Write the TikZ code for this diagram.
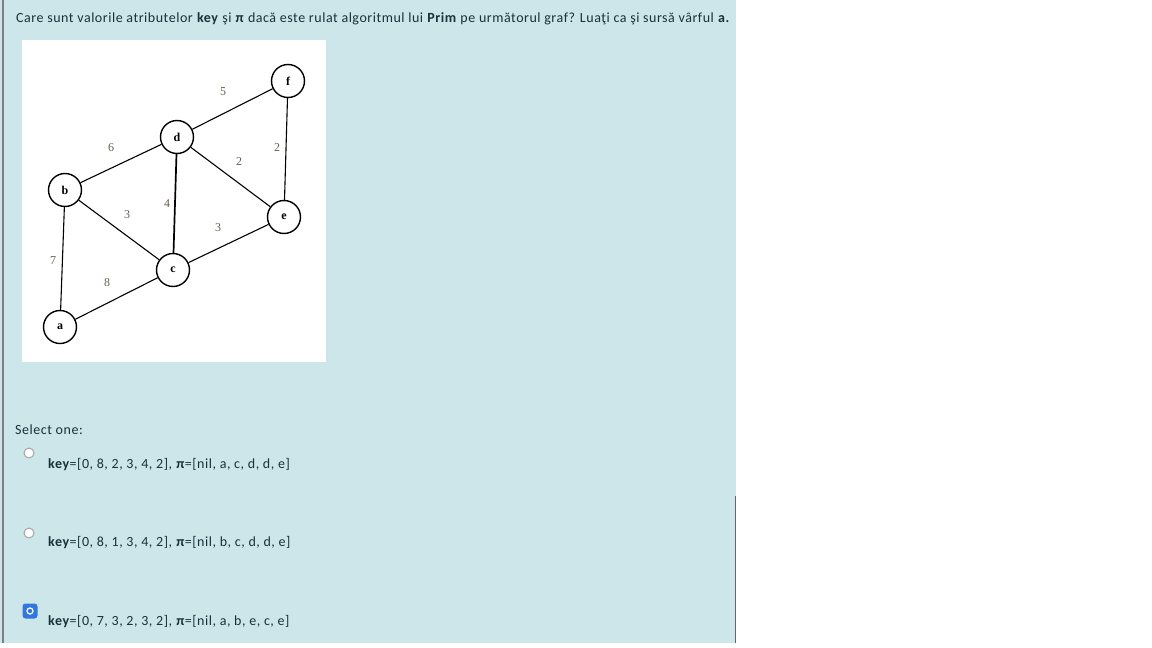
\documentclass[tikz,border=0pt]{standalone}
\usepackage{fontspec}
\setmainfont{Carlito}[LetterSpace=3.8]
\newfontfamily\graphfont{Liberation Serif}
\definecolor{panelbg}{RGB}{205,230,234}
\definecolor{txt}{RGB}{25,50,58}
\definecolor{lblcol}{RGB}{105,95,78}
\definecolor{radioblue}{RGB}{50,120,220}
\definecolor{bordergray}{RGB}{120,130,132}
\tikzset{
  gnode/.style={circle, draw=black, line width=1.4pt, minimum size=33pt, inner sep=0pt, fill=white, font=\graphfont\bfseries\fontsize{12}{12}\selectfont},
  gedge/.style={draw=black, line width=1.1pt},
  wlabel/.style={text=lblcol, font=\graphfont\fontsize{12}{12}\selectfont, inner sep=0pt},
  qtext/.style={text=txt, anchor=west, inner sep=0pt, font=\fontsize{14}{14}\selectfont},
  radio/.style={circle, draw=gray!70, line width=1pt, fill=white, minimum size=10pt, inner sep=0pt},
}
\begin{document}
\begin{tikzpicture}[x=1pt,y=-1pt]
\useasboundingbox (0,0) rectangle (1152,648);
\fill[white] (0,0) rectangle (1152,648);
\fill[panelbg] (0,0) rectangle (736,643);
\draw[bordergray, line width=1.3pt] (3,0) -- (3,643);
\draw[bordergray!80!black, line width=1pt] (735,496) -- (735,643);
% question
\node[qtext] (title) at (16,19) {Care sunt valorile atributelor \textbf{key} şi \textbf{π} dacă este rulat algoritmul lui \textbf{Prim} pe următorul graf? Luaţi ca şi sursă vârful \textbf{a.}};
% image box
\fill[white] (22,40) rectangle (326,362);
\node[gnode] (a) at (60,327) {a};
\node[gnode] (b) at (65,190) {b};
\node[gnode] (c) at (173,270) {c};
\node[gnode] (d) at (177,137) {d};
\node[gnode] (e) at (284,217) {e};
\node[gnode] (f) at (288,81) {f};
\draw[gedge] (a) -- (b);
\draw[gedge] (a) -- (c);
\draw[gedge] (b) -- (d);
\draw[gedge] (b) -- (c);
\draw[gedge, line width=1.7pt] (d) -- (c);
\draw[gedge] (d) -- (f);
\draw[gedge] (d) -- (e);
\draw[gedge] (c) -- (e);
\draw[gedge] (f) -- (e);
\node[wlabel] (w5) at (223,92) {5};
\node[wlabel] (w6) at (111,148) {6};
\node[wlabel] (w2a) at (239,162) {2};
\node[wlabel] (w2b) at (277,148) {2};
\node[wlabel] (w4) at (167,204) {4};
\node[wlabel] (w3a) at (127,215) {3};
\node[wlabel] (w3b) at (218,228) {3};
\node[wlabel] (w7) at (53,261) {7};
\node[wlabel] (w8) at (107,283) {8};
% answers
\node[qtext] (sel) at (15,430) {Select one:};
\node[radio] (r1) at (29,453) {};
\node[qtext] (o1) at (48,465) {\textbf{key}=[0, 8, 2, 3, 4, 2], \textbf{π}=[nil, a, c, d, d, e]};
\node[radio] (r2) at (29,533) {};
\node[qtext] (o2) at (48,543) {\textbf{key}=[0, 8, 1, 3, 4, 2], \textbf{π}=[nil, b, c, d, d, e]};
\node[fill=radioblue, rounded corners=3pt, minimum size=15pt, inner sep=0pt] (r3) at (30,611) {};
\node[circle, draw=radioblue, line width=1.2pt, fill=white, minimum size=9pt, inner sep=0pt] (r3w) at (r3) {};
\node[circle, fill=radioblue, minimum size=4.5pt, inner sep=0pt] (r3d) at (r3) {};
\node[qtext] (o3) at (48,622) {\textbf{key}=[0, 7, 3, 2, 3, 2], \textbf{π}=[nil, a, b, e, c, e]};
\end{tikzpicture}
\end{document}
